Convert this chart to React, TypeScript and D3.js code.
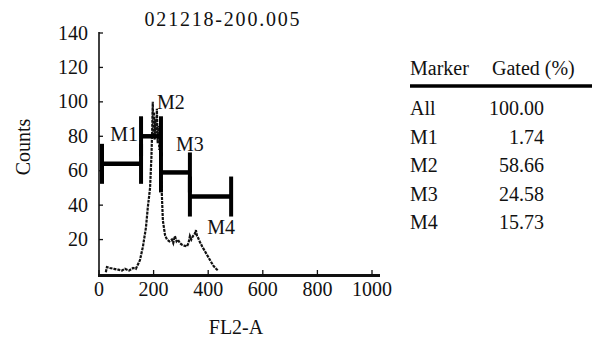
import * as d3 from 'd3';

// chart data
const title = '021218-200.005';
const xTicks = [0, 200, 400, 600, 800, 1000];
const yTicks = [20, 40, 60, 80, 100, 120, 140];

// histogram (channel, counts)
const histChannel = [25, 29, 40, 55, 70, 84, 95, 110, 125, 135, 150, 161, 172, 179, 187, 192, 195, 197, 199, 201, 204, 206, 209, 212, 215, 218, 221, 224, 227, 231, 234, 242, 249, 258, 267, 272, 278, 284, 289, 296, 304, 312, 322, 328, 333, 338, 344, 350, 355, 359, 363, 370, 378, 385, 396, 407, 418, 429, 436];
const histCount = [1, 4, 3.5, 3, 2.5, 2, 3, 2, 3.5, 3, 8, 16, 27, 39, 50, 68, 85, 100, 80, 94, 78, 90, 82, 96, 76, 86, 72, 80, 60, 43, 31, 22.5, 20, 19, 20, 18, 22, 19, 20, 18, 17, 16.5, 16, 18, 22, 20, 22, 23, 25.5, 22, 21, 18.5, 16, 14, 11, 8, 5, 3, 2];

// markers
const markerNames = ['M1', 'M2', 'M3', 'M4'];
const markerStart = [11, 154, 227, 333];
const markerEnd = [154, 227, 333, 484];
const markerLevel = [64, 80, 59, 45];

// stats table
const tableNames = ['All', 'M1', 'M2', 'M3', 'M4'];
const tableGated = ['100.00', '1.74', '58.66', '24.58', '15.73'];

const font = "'Liberation Serif', 'DejaVu Serif', serif";

// where each marker label sits relative to the marker's right cap
const labelPlace = [
  { anchor: 'end', dx: -3, dy: -23 },
  { anchor: 'start', dx: -4, dy: -27 },
  { anchor: 'middle', dx: 0, dy: -21 },
  { anchor: 'middle', dx: -10, dy: 37 },
];

export default function App() {
  const x = d3.scaleLinear().domain([0, 1000]).range([99, 372]);
  const y = d3.scaleLinear().domain([0, 140]).range([274, 33]);
  const capH = 20;

  const line = d3.line<number>()
    .x((d, i) => x(histChannel[i]))
    .y((d) => y(d));

  return (
    <svg width={594} height={341}
      style={{ position: 'absolute', left: 0, top: 0, background: '#fff', fontFamily: font, fontSize: 20 }}
      fill="#111">
      <text x={223} y={26} textAnchor="middle" letterSpacing={1.8}>{title}</text>

      {/* histogram */}
      <path d={line(histCount) || ''} fill="none" stroke="#111" strokeWidth={2.2} strokeDasharray="3,1" />

      {/* axes */}
      <line x1={99} x2={99} y1={32} y2={276} stroke="#111" strokeWidth={1.6} />
      <line x1={98} x2={380} y1={275.5} y2={275.5} stroke="#111" strokeWidth={2.8} />
      {yTicks.map((t) => (
        <g key={t}>
          <line x1={99} x2={103} y1={y(t)} y2={y(t)} stroke="#111" strokeWidth={1.3} />
          <text x={88} y={y(t) + 6.5} textAnchor="end">{t}</text>
        </g>
      ))}
      {xTicks.map((t) => (
        <g key={t}>
          <line x1={x(t)} x2={x(t)} y1={275} y2={270} stroke="#111" strokeWidth={1.3} />
          <text x={x(t)} y={296} textAnchor="middle">{t}</text>
        </g>
      ))}
      <text transform={`translate(30,147) rotate(-90)`} textAnchor="middle">Counts</text>
      <text x={236} y={334} textAnchor="middle">FL2-A</text>

      {/* markers */}
      {markerNames.map((m, i) => {
        const x0 = x(markerStart[i]);
        const x1 = x(markerEnd[i]);
        const yy = y(markerLevel[i]);
        const p = labelPlace[i];
        return (
          <g key={m}>
            <line x1={x0} x2={x1} y1={yy} y2={yy} stroke="#000" strokeWidth={4.5} />
            <line x1={x0} x2={x0} y1={yy - capH} y2={yy + capH} stroke="#000" strokeWidth={4} />
            <line x1={x1} x2={x1} y1={yy - capH} y2={yy + capH} stroke="#000" strokeWidth={4} />
            <text x={x1 + p.dx} y={yy + p.dy} textAnchor={p.anchor as any}>{m}</text>
          </g>
        );
      })}

      {/* table */}
      <text x={410} y={75}>Marker</text>
      <text x={492} y={75}>Gated (%)</text>
      <line x1={410} x2={592} y1={86} y2={86} stroke="#000" strokeWidth={3.5} />
      {tableNames.map((n, i) => (
        <g key={n}>
          <text x={410} y={115 + i * 28.5}>{n}</text>
          <text x={544} y={115 + i * 28.5} textAnchor="end">{tableGated[i]}</text>
        </g>
      ))}
    </svg>
  );
}
